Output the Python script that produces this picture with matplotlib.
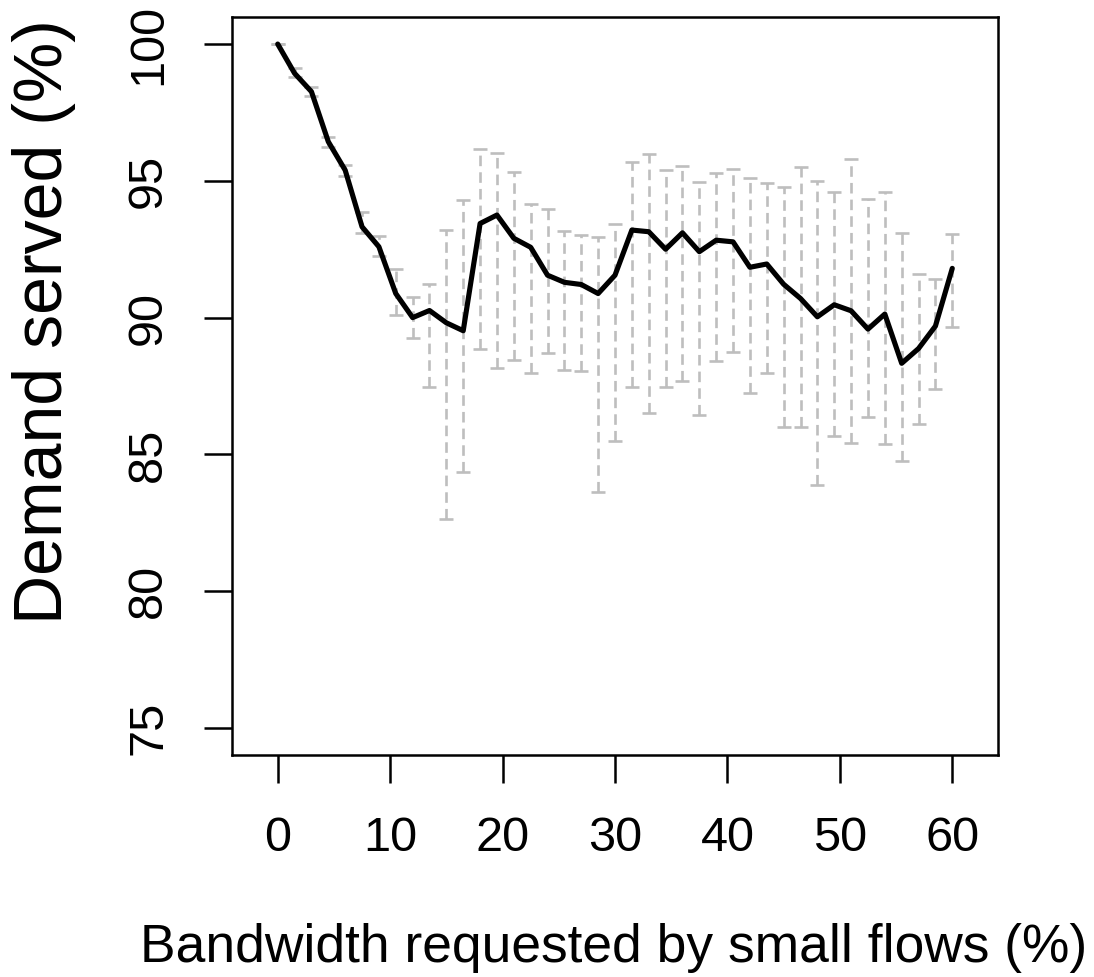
import matplotlib
matplotlib.use("Agg")
import matplotlib.pyplot as plt
import numpy as np

# Data
x_vals = [0, 1.5, 3, 4.5, 6, 7.5, 9, 10.5, 12, 13.5, 15, 16.5, 18, 19.5, 21, 22.5,
          24, 25.5, 27, 28.5, 30, 31.5, 33, 34.5, 36, 37.5, 39, 40.5, 42, 43.5,
          45, 46.5, 48, 49.5, 51, 52.5, 54, 55.5, 57, 58.5, 60]
mean_vals = [100.0, 98.93, 98.26, 96.43, 95.39, 93.32, 92.59, 90.88, 90.0, 90.26,
             89.81, 89.52, 93.44, 93.75, 92.9, 92.57, 91.55, 91.29, 91.21, 90.88,
             91.55, 93.2, 93.14, 92.5, 93.1, 92.41, 92.83, 92.77, 91.84, 91.96,
             91.22, 90.7, 90.03, 90.47, 90.25, 89.58, 90.13, 88.33, 88.87, 89.69, 91.8]
upper_vals = [100.0, 99.11, 98.42, 96.59, 95.58, 93.86, 92.98, 91.78, 90.74, 91.23,
              93.2, 94.3, 96.15, 96.03, 95.33, 94.15, 93.96, 93.18, 93.02, 92.96,
              93.42, 95.7, 95.97, 95.39, 95.55, 94.94, 95.27, 95.45, 95.11, 94.93,
              94.78, 95.49, 95.0, 94.6, 95.78, 94.32, 94.6, 93.1, 91.59, 91.4, 93.04]
lower_vals = [100.0, 98.8, 98.1, 96.22, 95.18, 93.1, 92.25, 90.09, 89.24, 87.47,
              82.62, 84.36, 88.84, 88.14, 88.45, 87.98, 88.69, 88.08, 88.04, 83.61,
              85.5, 87.45, 86.5, 87.47, 87.69, 86.44, 88.42, 88.75, 87.26, 87.98,
              86.01, 86.01, 83.88, 85.67, 85.42, 86.35, 85.37, 84.76, 86.11, 87.39, 89.64]
x_ticks = [0, 10, 20, 30, 40, 50, 60]
y_ticks = [75, 80, 85, 90, 95, 100]

plt.rcParams['font.family'] = ['Liberation Sans', 'DejaVu Sans']
plt.rcParams['lines.scale_dashes'] = False

W, H, DPI = 1094, 977, 100
fig = plt.figure(figsize=(W / DPI, H / DPI), dpi=DPI)
ax = fig.add_axes([232.3 / W, 1 - 755.3 / H, (997.7 - 232.3) / W, (755.3 - 16.7) / H])

x = np.array(x_vals)
m = np.array(mean_vals)
up = np.array(upper_vals)
lo = np.array(lower_vals)

eb = ax.errorbar(x, m, yerr=[m - lo, up - m], fmt='none', ecolor='#BEBEBE',
                 elinewidth=1.9, capsize=5.0, capthick=1.9, zorder=2)
for lc in eb[2]:
    lc.set_linestyle((0, (7.6, 4.4)))

ax.plot(x, m, color='black', linewidth=3.7, solid_joinstyle='round',
        solid_capstyle='round', zorder=3)

ax.set_xlim(-4.04, 64.04)
ax.set_ylim(74, 101)
ax.set_xticks(x_ticks)
ax.set_yticks(y_ticks)
ax.set_yticklabels([str(v) for v in y_ticks], rotation=90, va='center')

for s in ax.spines.values():
    s.set_linewidth(1.8)
ax.tick_params(axis='both', length=20, width=1.8, labelsize=35, direction='out')
ax.tick_params(axis='x', pad=24)
ax.tick_params(axis='y', pad=24)

fig.text(614 / W, 1 - 962 / H, 'Bandwidth requested by small flows (%)',
         fontsize=38.4, ha='center', va='baseline')
fig.text(62 / W, 1 - 322 / H, 'Demand served (%)', fontsize=49, rotation=90,
         rotation_mode='anchor', ha='center', va='baseline')

fig.savefig('out.png', dpi=DPI)
